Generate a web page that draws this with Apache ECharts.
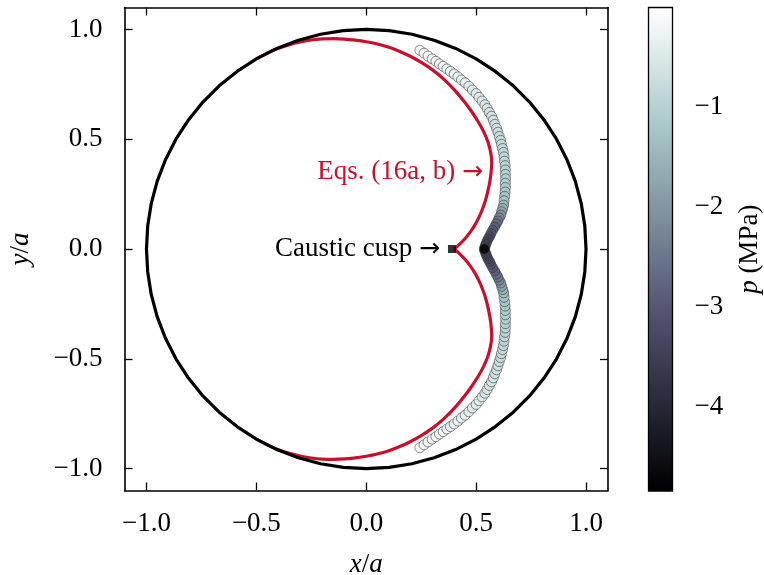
<!DOCTYPE html>
<html>
<head>
<meta charset="utf-8">
<script src="https://cdn.jsdelivr.net/npm/echarts@6/dist/echarts.min.js"></script>
<style>
html,body{margin:0;padding:0;background:#fff;}
#chart{width:764px;height:575px;}
</style>
</head>
<body>
<div id="chart"></div>
<script>
// ---------------- data ----------------
// axis ticks
const mainTicks = [-1.0, -0.5, 0.0, 0.5, 1.0];
const cbTicks = [-4, -3, -2, -1];
const pMin = -4.84, pMax = 0;

// unit circle (wall), read at 6 degree steps
const circleX = [1, .9945, .9781, .9511, .9135, .866, .809, .7431, .6691, .5878, .5, .4067, .309, .2079, .1045, 0, -.1045, -.2079, -.309, -.4067, -.5, -.5878, -.6691, -.7431, -.809, -.866, -.9135, -.9511, -.9781, -.9945, -1, -.9945, -.9781, -.9511, -.9135, -.866, -.809, -.7431, -.6691, -.5878, -.5, -.4067, -.309, -.2079, -.1045, 0, .1045, .2079, .309, .4067, .5, .5878, .6691, .7431, .809, .866, .9135, .9511, .9781, .9945, 1];
const circleY = [0, .1045, .2079, .309, .4067, .5, .5878, .6691, .7431, .809, .866, .9135, .9511, .9781, .9945, 1, .9945, .9781, .9511, .9135, .866, .809, .7431, .6691, .5878, .5, .4067, .309, .2079, .1045, 0, -.1045, -.2079, -.309, -.4067, -.5, -.5878, -.6691, -.7431, -.809, -.866, -.9135, -.9511, -.9781, -.9945, -1, -.9945, -.9781, -.9511, -.9135, -.866, -.809, -.7431, -.6691, -.5878, -.5, -.4067, -.309, -.2079, -.1045, 0];

// caustic, Eqs. (16a, b): upper branch from cusp to wall
const redUpX = [0.400, 0.425, 0.450, 0.473, 0.494, 0.512, 0.528, 0.542, 0.553, 0.562, 0.568, 0.571, 0.566, 0.553, 0.533, 0.508, 0.480, 0.450, 0.400, 0.350, 0.300, 0.250, 0.200, 0.150, 0.100, 0.050, 0.000, -0.050, -0.100, -0.150, -0.200, -0.250, -0.300, -0.350, -0.400, -0.450, -0.500];
const redUpY = [0.000, 0.022, 0.048, 0.077, 0.109, 0.143, 0.180, 0.220, 0.262, 0.305, 0.349, 0.393, 0.441, 0.490, 0.537, 0.582, 0.625, 0.666, 0.726, 0.776, 0.817, 0.850, 0.878, 0.901, 0.920, 0.934, 0.944, 0.951, 0.956, 0.958, 0.957, 0.952, 0.943, 0.931, 0.914, 0.892, 0.866];
// lower branch from cusp to wall
const redLoX = [0.400, 0.425, 0.450, 0.473, 0.494, 0.512, 0.528, 0.542, 0.553, 0.562, 0.568, 0.571, 0.566, 0.553, 0.533, 0.508, 0.480, 0.450, 0.400, 0.350, 0.300, 0.250, 0.200, 0.150, 0.100, 0.050, 0.000, -0.050, -0.100, -0.150, -0.200, -0.250, -0.300, -0.350, -0.400, -0.450, -0.500];
const redLoY = [0.000, -0.022, -0.048, -0.077, -0.109, -0.143, -0.180, -0.220, -0.262, -0.305, -0.349, -0.393, -0.441, -0.490, -0.537, -0.582, -0.625, -0.666, -0.726, -0.776, -0.817, -0.850, -0.878, -0.901, -0.920, -0.934, -0.944, -0.951, -0.956, -0.958, -0.957, -0.952, -0.943, -0.931, -0.914, -0.892, -0.866];

// simulated pressure points, upper half (end -> cusp)
const upX = [0.244,0.263,0.281,0.300,0.317,0.333,0.350,0.367,0.383,0.400,0.417,0.433,0.450,0.467,0.483,0.500,0.513,0.527,0.540,0.550,0.560,0.570,0.578,0.585,0.593,0.599,0.605,0.611,0.615,0.620,0.624,0.627,0.629,0.632,0.633,0.633,0.634,0.633,0.633,0.632,0.630,0.627,0.625,0.621,0.616,0.612,0.605,0.599,0.592,0.584,0.575,0.567,0.561,0.554,0.548,0.544,0.540];
const upY = [0.905,0.892,0.879,0.866,0.855,0.843,0.832,0.820,0.809,0.797,0.784,0.770,0.757,0.741,0.724,0.708,0.691,0.674,0.657,0.640,0.622,0.605,0.587,0.568,0.550,0.532,0.513,0.495,0.477,0.458,0.440,0.420,0.400,0.380,0.360,0.340,0.320,0.300,0.280,0.260,0.240,0.220,0.200,0.185,0.170,0.155,0.142,0.128,0.115,0.100,0.085,0.070,0.057,0.045,0.032,0.021,0.010];
const upP = [-0.10,-0.12,-0.14,-0.16,-0.18,-0.20,-0.22,-0.24,-0.26,-0.28,-0.30,-0.32,-0.35,-0.38,-0.41,-0.44,-0.47,-0.50,-0.53,-0.56,-0.59,-0.62,-0.65,-0.68,-0.71,-0.74,-0.77,-0.80,-0.83,-0.86,-0.89,-0.92,-0.95,-0.98,-1.01,-1.04,-1.08,-1.12,-1.17,-1.22,-1.28,-1.36,-1.46,-1.60,-1.80,-2.05,-2.30,-2.55,-2.75,-2.95,-3.10,-3.22,-3.32,-3.40,-3.47,-3.52,-3.56];
// lower half (end -> cusp)
const loX = [0.244,0.263,0.281,0.300,0.317,0.333,0.350,0.367,0.383,0.400,0.417,0.433,0.450,0.467,0.483,0.500,0.513,0.527,0.540,0.550,0.560,0.570,0.578,0.585,0.593,0.599,0.605,0.611,0.615,0.620,0.624,0.627,0.629,0.632,0.633,0.633,0.634,0.633,0.633,0.632,0.630,0.627,0.625,0.621,0.616,0.612,0.605,0.599,0.592,0.584,0.575,0.567,0.561,0.554,0.548,0.544,0.540];
const loY = [-0.905,-0.892,-0.879,-0.866,-0.855,-0.843,-0.832,-0.820,-0.809,-0.797,-0.784,-0.770,-0.757,-0.741,-0.724,-0.708,-0.691,-0.674,-0.657,-0.640,-0.622,-0.605,-0.587,-0.568,-0.550,-0.532,-0.513,-0.495,-0.477,-0.458,-0.440,-0.420,-0.400,-0.380,-0.360,-0.340,-0.320,-0.300,-0.280,-0.260,-0.240,-0.220,-0.200,-0.185,-0.170,-0.155,-0.142,-0.128,-0.115,-0.100,-0.085,-0.070,-0.057,-0.045,-0.032,-0.021,-0.010];
const loP = [-0.10,-0.12,-0.14,-0.16,-0.18,-0.20,-0.22,-0.24,-0.26,-0.28,-0.30,-0.32,-0.35,-0.38,-0.41,-0.44,-0.47,-0.50,-0.53,-0.56,-0.59,-0.62,-0.65,-0.68,-0.71,-0.74,-0.77,-0.80,-0.83,-0.86,-0.89,-0.92,-0.95,-0.98,-1.01,-1.04,-1.08,-1.12,-1.17,-1.22,-1.28,-1.36,-1.46,-1.60,-1.80,-2.05,-2.30,-2.55,-2.75,-2.95,-3.10,-3.22,-3.32,-3.40,-3.47,-3.52,-3.56];
// pressure cusp point
const cuspX = [0.537], cuspY = [0.0], cuspP = [-4.84];
// caustic cusp marker
const causticCuspX = [0.39], causticCuspY = [0.0];

// annotations
const annEqs = {x: 0.531, y: 0.35, text: 'Eqs. (16a, b) '};
const annCusp = {x: 0.335, y: 0.0, text: 'Caustic cusp '};

// ---------------- styling ----------------
const FONT = '"Liberation Serif", "DejaVu Serif", serif';
const FS = 27;
const RED = '#c8102e';
const bone = ['#000000', '#1c1c27', '#38384e', '#545473', '#6f7b8f', '#8ba1ab', '#a8c7c7', '#d3e3e3', '#ffffff'];

const zip = (xs, ys) => xs.map((x, i) => [x, ys[i]]);
const zip3 = (xs, ys, ps) => xs.map((x, i) => [x, ys[i], ps[i]]);
const fmtMain = v => (v < 0 ? '\u2212' : '') + Math.abs(v).toFixed(1);
const fmtCb = v => (v < 0 ? '\u2212' : '') + Math.abs(v).toFixed(0);

const scatterData = zip3(upX, upY, upP).concat(zip3(loX, loY, loP), zip3(cuspX, cuspY, cuspP));

const lineAx = {show: true, onZero: false, lineStyle: {color: '#000', width: 1.6}};
const tickIn = {show: true, inside: true, length: 8, customValues: mainTicks, lineStyle: {color: '#000', width: 1.3}};
const lblMain = {customValues: mainTicks, formatter: fmtMain, fontFamily: FONT, fontSize: FS, color: '#000'};
const italicRich = {i: {fontFamily: FONT, fontSize: FS, fontStyle: 'italic', color: '#000'}};

function annLabel(text, color) {
  return {
    show: true, position: 'left', distance: 0,
    formatter: '{t|' + text + '}{a|\u2192}',
    rich: {
      t: {fontFamily: FONT, fontSize: FS, color: color},
      a: {fontFamily: '"DejaVu Sans", sans-serif', fontSize: 25, color: color}
    }
  };
}

const chart = echarts.init(document.getElementById('chart'), null, {renderer: 'canvas'});
chart.setOption({
  animation: false,
  backgroundColor: '#fff',
  grid: [
    {left: 124.5, top: 7.5, width: 483.5, height: 483, containLabel: false, outerBoundsMode: 'none'},
    {left: 648.5, top: 7.5, width: 24, height: 483.5, show: true, borderColor: '#000', borderWidth: 1.3, backgroundColor: 'transparent', z: 10, outerBoundsMode: 'none'}
  ],
  xAxis: [
    {gridIndex: 0, type: 'value', min: -1.1, max: 1.1, position: 'bottom',
     axisLine: lineAx, axisTick: tickIn, splitLine: {show: false},
     axisLabel: Object.assign({margin: 20}, lblMain),
     name: '{i|x}/{i|a}', nameLocation: 'middle', nameGap: 61,
     nameTextStyle: {fontFamily: FONT, fontSize: FS, color: '#000', rich: italicRich}},
    {gridIndex: 0, type: 'value', min: -1.1, max: 1.1, position: 'top',
     axisLine: lineAx, axisTick: tickIn, axisLabel: {show: false}, splitLine: {show: false}},
    {gridIndex: 1, type: 'value', min: 0, max: 1, show: false}
  ],
  yAxis: [
    {gridIndex: 0, type: 'value', min: -1.1, max: 1.1, position: 'left',
     axisLine: lineAx, axisTick: tickIn, splitLine: {show: false},
     axisLabel: Object.assign({margin: 22}, lblMain),
     name: '{i|y}/{i|a}', nameLocation: 'middle', nameGap: 90, nameRotate: 90,
     nameTextStyle: {fontFamily: FONT, fontSize: FS, color: '#000', rich: italicRich}},
    {gridIndex: 0, type: 'value', min: -1.1, max: 1.1, position: 'right',
     axisLine: lineAx, axisTick: tickIn, axisLabel: {show: false}, splitLine: {show: false}},
    {gridIndex: 1, type: 'value', min: pMin, max: pMax, position: 'right',
     axisLine: {show: false}, splitLine: {show: false},
     axisTick: {show: true, inside: false, length: 7, customValues: cbTicks, lineStyle: {color: '#000', width: 1.3}},
     axisLabel: {customValues: cbTicks, formatter: fmtCb, margin: 22, fontFamily: FONT, fontSize: FS, color: '#000'},
     name: '{i|p} (MPa)', nameLocation: 'middle', nameGap: 64, nameRotate: 90,
     nameTextStyle: {fontFamily: FONT, fontSize: FS, color: '#000', rich: italicRich}}
  ],
  visualMap: [{
    type: 'continuous', min: pMin, max: pMax, dimension: 2, seriesIndex: 3,
    calculable: false, hoverLink: false, orient: 'vertical',
    left: 648.5, top: 7.5, itemWidth: 24, itemHeight: 483.5, padding: 0,
    inRange: {color: bone}, z: 2
  }],
  series: [
    {type: 'line', name: 'caustic upper', xAxisIndex: 0, yAxisIndex: 0, data: zip(redUpX, redUpY), smooth: 0.3,
     showSymbol: false, symbol: 'none', lineStyle: {color: RED, width: 3.2}, z: 2, silent: true},
    {type: 'line', name: 'caustic lower', xAxisIndex: 0, yAxisIndex: 0, data: zip(redLoX, redLoY), smooth: 0.3,
     showSymbol: false, symbol: 'none', lineStyle: {color: RED, width: 3.2}, z: 2, silent: true},
    {type: 'line', name: 'wall', xAxisIndex: 0, yAxisIndex: 0, data: zip(circleX, circleY), smooth: false,
     showSymbol: false, symbol: 'none', lineStyle: {color: '#000', width: 3.2}, z: 3, silent: true},
    {type: 'scatter', name: 'pressure', xAxisIndex: 0, yAxisIndex: 0, data: scatterData, symbol: 'circle', symbolSize: 10,
     itemStyle: {borderColor: '#333', borderWidth: 0.7}, z: 4, silent: true},
    {type: 'scatter', name: 'caustic cusp', xAxisIndex: 0, yAxisIndex: 0, data: zip(causticCuspX, causticCuspY), symbol: 'rect', symbolSize: 8,
     itemStyle: {color: '#000'}, z: 5, silent: true},
    {type: 'scatter', name: 'labels', xAxisIndex: 0, yAxisIndex: 0, symbolSize: 0, itemStyle: {color: '#000', opacity: 1}, z: 6, silent: true,
     data: [
       {value: [annEqs.x, annEqs.y], label: annLabel(annEqs.text, RED)},
       {value: [annCusp.x, annCusp.y], label: annLabel(annCusp.text, '#000')}
     ]}
  ]
});
</script>
</body>
</html>
